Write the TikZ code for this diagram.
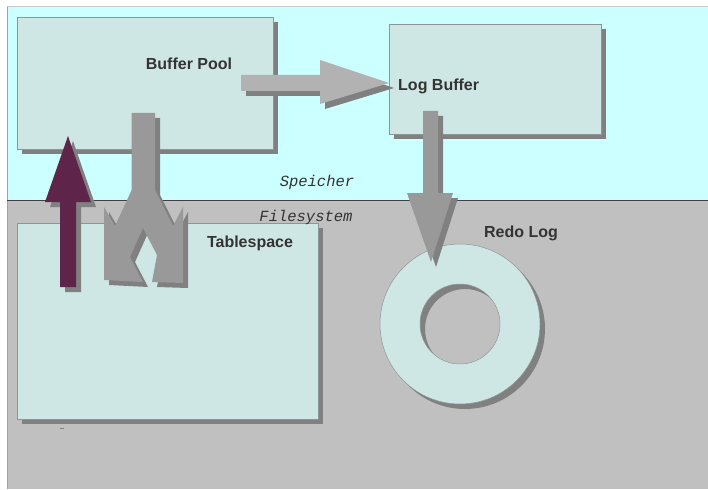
\documentclass[tikz,border=0pt]{standalone}
\usepackage{fontspec}
\setmainfont{Liberation Sans}
\setmonofont{Liberation Mono}
\definecolor{cyanbg}{RGB}{204,255,255}
\definecolor{graybg}{RGB}{192,192,192}
\definecolor{boxfill}{RGB}{207,231,228}
\definecolor{boxline}{RGB}{140,150,150}
\definecolor{shadowgray}{RGB}{128,128,128}
\definecolor{lightarrow}{RGB}{178,178,178}
\definecolor{midarrow}{RGB}{153,153,153}
\definecolor{plum}{RGB}{94,36,74}
\definecolor{txt}{RGB}{51,51,51}
\begin{document}
\begin{tikzpicture}[x=1pt,y=-1pt,
  shadowst/.style={fill=shadowgray, shift={(5,5)}},
  boxst/.style={fill=boxfill, draw=boxline, line width=0.6pt, anchor=north west, inner sep=0},
  lbl/.style={font=\fontsize{16}{19}\selectfont\bfseries, text=txt, inner sep=0},
  mono/.style={font=\fontsize{15.5}{18}\selectfont\ttfamily\itshape, text=txt, inner sep=0}]
\useasboundingbox (0,0) rectangle (708,489);
\fill[white] (0,0) rectangle (708,489);
% memory / filesystem regions
\fill[cyanbg] (7,7) rectangle (708,200);
\fill[graybg] (7,200) rectangle (708,489);
\draw[color={rgb,255:red,200;green,200;blue,200}, line width=1.2pt] (7,6.6) -- (708,6.6);
\draw[color={rgb,255:red,160;green,160;blue,160}, line width=1pt] (7,7) -- (7,489);
\draw[color={rgb,255:red,64;green,64;blue,64}, line width=0.8pt] (7,200) -- (708,200);
% boxes with shadows
\fill[shadowgray] (22,22) rectangle (278,154);
\node[boxst, minimum width=256pt, minimum height=132pt] (bp) at (17,17) {};
\fill[shadowgray] (394,29) rectangle (606,139);
\node[boxst, minimum width=212pt, minimum height=110pt] (lb) at (389,24) {};
\fill[shadowgray] (22,228) rectangle (323,424);
\node[boxst, minimum width=301pt, minimum height=196pt] (ts) at (17,223) {};
% redo log ring
\fill[shadowgray, even odd rule] (465,329) circle (80) (465,329) circle (40);
\filldraw[fill=boxfill, draw=boxline, line width=0.5pt, even odd rule] (460,324) circle (80) (460,324) circle (40);
\coordinate (rl) at (460,324);
% arrow Buffer Pool -> Log Buffer
\fill[shadowst] (241,75) -- (320,75) -- (320,60) -- (389,83) -- (320,104) -- (320,91) -- (241,91) -- cycle;
\fill[lightarrow] (241,75) -- (320,75) -- (320,60) -- (389,83) -- (320,104) -- (320,91) -- (241,91) -- cycle;
% arrow Log Buffer -> Redo Log
\fill[shadowst] (423,111) -- (438,111) -- (438,193) -- (453,193) -- (431,262) -- (407,193) -- (423,193) -- cycle;
\fill[midarrow] (423,111) -- (438,111) -- (438,193) -- (453,193) -- (431,262) -- (407,193) -- (423,193) -- cycle;
% purple arrow Tablespace -> Buffer Pool
\fill[shadowst] (60,287) -- (60,202) -- (45,202) -- (68,136) -- (91,202) -- (76,202) -- (76,287) -- cycle;
\fill[plum] (60,287) -- (60,202) -- (45,202) -- (68,136) -- (91,202) -- (76,202) -- (76,287) -- cycle;
% fork arrow Buffer Pool -> Tablespace
\fill[shadowst] (131.7,113) -- (155,113) -- (155,190) -- (173,226) -- (183,207) -- (183,283) -- (152,282) -- (157,255) -- (143,228) -- (130,257) -- (143,282) -- (104,280) -- (104,207) -- (115,226) -- (131.7,190) -- cycle;
\fill[midarrow] (131.7,113) -- (155,113) -- (155,190) -- (173,226) -- (183,207) -- (183,283) -- (152,282) -- (157,255) -- (143,228) -- (130,257) -- (143,282) -- (104,280) -- (104,207) -- (115,226) -- (131.7,190) -- cycle;
% labels
\node[lbl] (bpl) at (189,64) {Buffer Pool};
\node[lbl, anchor=west] (lbl2) at (398,86) {Log Buffer};
\node[lbl] (tsl) at (250,243) {Tablespace};
\node[lbl] (rll) at (521,233) {Redo Log};
\node[mono] (sp) at (317,182) {Speicher};
\node[mono] (fs) at (306,217) {Filesystem};
\draw[shadowgray, line width=0.6pt] (60,428) -- (64,428);
\end{tikzpicture}
\end{document}
